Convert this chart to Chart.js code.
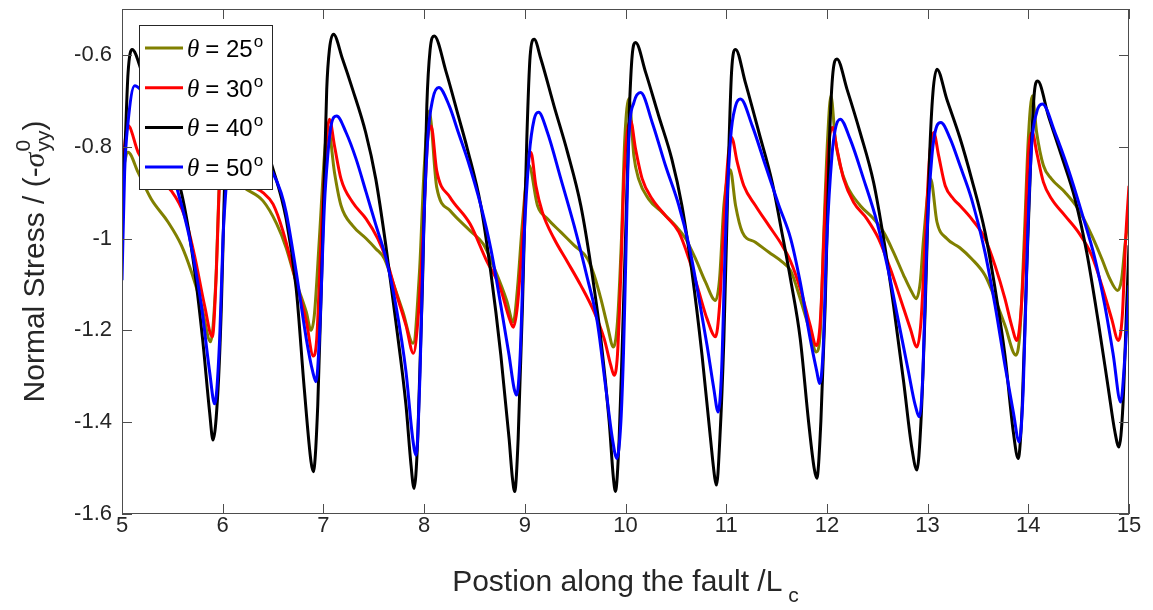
<!DOCTYPE html>
<html>
<head>
<meta charset="utf-8">
<script src="https://cdn.jsdelivr.net/npm/chart.js@4.4.0/dist/chart.umd.min.js"></script>
<style>
  html, body { margin: 0; padding: 0; background: #fff; }
</style>
</head>
<body>
<canvas id="c" width="1153" height="610"></canvas>
<script>
// axis ticks
const xTicks = [5, 6, 7, 8, 9, 10, 11, 12, 13, 14, 15];
const yTicks = [-1.6, -1.4, -1.2, -1, -0.8, -0.6];
const yTickLabels = ['-1.6', '-1.4', '-1.2', '-1', '-0.8', '-0.6'];

// legend / series
const angles = ['25', '30', '40', '50'];
const colors = ['#808000', '#ff0000', '#000000', '#0000ff'];

// theta = 25
const x25 = [5.00, 5.06, 5.16, 5.29, 5.457, 5.59, 5.69, 5.79, 5.88, 5.93, 5.97, 6.02, 6.07, 6.12, 6.205, 6.40, 6.536, 6.63, 6.73, 6.83, 6.877, 6.91, 6.96, 7.01, 7.045, 7.11, 7.175, 7.29, 7.424, 7.52, 7.606, 7.69, 7.79, 7.89, 7.954, 8.0, 8.05, 8.125, 8.257, 8.456, 8.588, 8.72, 8.82, 8.886, 8.927, 8.977, 9.04, 9.126, 9.225, 9.358, 9.49, 9.623, 9.689, 9.755, 9.82, 9.88, 9.92, 9.96, 9.993, 10.035, 10.083, 10.13, 10.23, 10.364, 10.497, 10.596, 10.695, 10.795, 10.894, 10.934, 10.977, 11.04, 11.093, 11.16, 11.29, 11.424, 11.556, 11.64, 11.735, 11.834, 11.894, 11.934, 11.967, 12.007, 12.04, 12.083, 12.132, 12.2, 12.33, 12.464, 12.563, 12.662, 12.762, 12.844, 12.887, 12.927, 12.96, 13.03, 13.093, 13.19, 13.32, 13.437, 13.57, 13.67, 13.768, 13.877, 13.917, 13.96, 14.0, 14.04, 14.083, 14.15, 14.23, 14.364, 14.497, 14.63, 14.73, 14.81, 14.887, 14.927, 14.96, 15.0];
const y25 = [-0.86, -0.812, -0.856, -0.914, -0.964, -1.015, -1.073, -1.146, -1.225, -1.10, -0.86, -0.75, -0.83, -0.87, -0.888, -0.918, -0.968, -1.02, -1.095, -1.16, -1.2, -1.167, -1.0, -0.82, -0.755, -0.856, -0.928, -0.972, -1.0, -1.022, -1.044, -1.095, -1.16, -1.228, -1.073, -0.85, -0.722, -0.888, -0.939, -0.983, -1.012, -1.077, -1.135, -1.182, -1.109, -0.964, -0.84, -0.928, -0.957, -0.986, -1.015, -1.044, -1.08, -1.131, -1.189, -1.236, -1.182, -1.0, -0.783, -0.695, -0.82, -0.87, -0.914, -0.943, -0.972, -1.0, -1.044, -1.095, -1.135, -1.088, -0.928, -0.85, -0.928, -0.986, -1.008, -1.03, -1.051, -1.07, -1.131, -1.204, -1.247, -1.204, -1.0, -0.783, -0.689, -0.783, -0.841, -0.885, -0.928, -0.957, -0.986, -1.03, -1.08, -1.117, -1.131, -1.095, -1.0, -0.87, -0.964, -1.0, -1.02, -1.044, -1.08, -1.131, -1.189, -1.254, -1.204, -1.0, -0.783, -0.689, -0.769, -0.841, -0.87, -0.899, -0.936, -0.993, -1.044, -1.088, -1.113, -1.088, -1.015, -0.943];

// theta = 30
const x30 = [5.00, 5.026, 5.06, 5.16, 5.30, 5.49, 5.62, 5.72, 5.82, 5.897, 5.937, 5.97, 6.01, 6.06, 6.12, 6.25, 6.40, 6.50, 6.60, 6.73, 6.83, 6.90, 6.934, 6.977, 7.02, 7.06, 7.11, 7.175, 7.29, 7.424, 7.54, 7.623, 7.72, 7.82, 7.894, 7.937, 7.987, 8.036, 8.07, 8.125, 8.257, 8.456, 8.62, 8.754, 8.853, 8.887, 8.927, 8.977, 9.02, 9.06, 9.11, 9.175, 9.29, 9.424, 9.556, 9.689, 9.788, 9.854, 9.887, 9.92, 9.954, 9.987, 10.05, 10.1, 10.166, 10.265, 10.397, 10.53, 10.63, 10.73, 10.81, 10.894, 10.934, 10.977, 11.02, 11.053, 11.11, 11.175, 11.29, 11.424, 11.556, 11.64, 11.735, 11.834, 11.894, 11.934, 11.977, 12.017, 12.056, 12.1, 12.166, 12.265, 12.397, 12.513, 12.63, 12.73, 12.828, 12.894, 12.934, 12.977, 13.02, 13.06, 13.11, 13.175, 13.258, 13.32, 13.437, 13.57, 13.67, 13.768, 13.834, 13.887, 13.927, 13.967, 14.0, 14.04, 14.083, 14.15, 14.232, 14.364, 14.497, 14.63, 14.73, 14.828, 14.894, 14.934, 14.967, 15.0];
const y30 = [-0.870, -0.798, -0.754, -0.812, -0.86, -0.896, -0.95, -1.037, -1.146, -1.214, -1.073, -0.86, -0.74, -0.80, -0.85, -0.88, -0.90, -0.925, -0.985, -1.095, -1.18, -1.256, -1.218, -1.0, -0.82, -0.74, -0.798, -0.87, -0.921, -0.957, -1.0, -1.044, -1.117, -1.189, -1.25, -1.182, -1.0, -0.783, -0.755, -0.852, -0.91, -0.968, -1.048, -1.106, -1.178, -1.193, -1.146, -1.0, -0.856, -0.812, -0.885, -0.943, -1.0, -1.051, -1.102, -1.16, -1.218, -1.276, -1.298, -1.254, -1.073, -0.856, -0.743, -0.805, -0.87, -0.914, -0.95, -0.986, -1.044, -1.117, -1.175, -1.214, -1.146, -0.964, -0.82, -0.78, -0.834, -0.885, -0.928, -0.972, -1.015, -1.05, -1.109, -1.189, -1.233, -1.182, -0.964, -0.798, -0.758, -0.805, -0.87, -0.921, -0.957, -1.0, -1.066, -1.131, -1.196, -1.236, -1.182, -1.0, -0.82, -0.769, -0.82, -0.885, -0.914, -0.928, -0.957, -1.0, -1.059, -1.131, -1.189, -1.222, -1.16, -1.0, -0.82, -0.769, -0.812, -0.877, -0.914, -0.95, -0.986, -1.037, -1.102, -1.175, -1.222, -1.167, -1.0, -0.885];

// theta = 40
const x40 = [5.00, 5.03, 5.06, 5.10, 5.20, 5.35, 5.47, 5.59, 5.705, 5.80, 5.87, 5.904, 5.954, 5.987, 6.013, 6.05, 6.09, 6.20, 6.30, 6.48, 6.63, 6.73, 6.81, 6.877, 6.90, 6.944, 6.993, 7.033, 7.06, 7.10, 7.19, 7.29, 7.42, 7.52, 7.62, 7.72, 7.82, 7.87, 7.90, 7.937, 7.987, 8.027, 8.06, 8.10, 8.22, 8.34, 8.43, 8.563, 8.662, 8.762, 8.844, 8.877, 8.90, 8.934, 8.977, 9.02, 9.053, 9.093, 9.16, 9.29, 9.424, 9.556, 9.656, 9.755, 9.838, 9.88, 9.90, 9.937, 9.97, 10.0, 10.04, 10.066, 10.10, 10.2, 10.33, 10.46, 10.56, 10.66, 10.76, 10.844, 10.887, 10.904, 10.937, 10.977, 11.02, 11.053, 11.093, 11.19, 11.325, 11.457, 11.556, 11.64, 11.735, 11.818, 11.874, 11.90, 11.94, 11.983, 12.026, 12.06, 12.10, 12.2, 12.33, 12.464, 12.563, 12.662, 12.762, 12.844, 12.894, 12.934, 12.977, 13.02, 13.053, 13.093, 13.19, 13.32, 13.437, 13.57, 13.67, 13.768, 13.851, 13.90, 13.94, 13.983, 14.026, 14.06, 14.093, 14.2, 14.33, 14.464, 14.58, 14.695, 14.795, 14.86, 14.90, 14.94, 14.977, 15.0];
const y40 = [-0.932, -0.80, -0.64, -0.588, -0.64, -0.75, -0.82, -0.90, -1.044, -1.218, -1.378, -1.439, -1.327, -1.146, -0.928, -0.66, -0.565, -0.63, -0.70, -0.834, -0.957, -1.109, -1.327, -1.486, -1.508, -1.363, -1.0, -0.675, -0.588, -0.555, -0.609, -0.675, -0.769, -0.87, -1.015, -1.182, -1.363, -1.493, -1.544, -1.436, -1.073, -0.711, -0.588, -0.559, -0.638, -0.733, -0.805, -0.928, -1.073, -1.254, -1.436, -1.522, -1.551, -1.436, -1.146, -0.783, -0.602, -0.566, -0.609, -0.711, -0.812, -0.928, -1.059, -1.218, -1.399, -1.522, -1.551, -1.436, -1.218, -1.0, -0.711, -0.602, -0.573, -0.638, -0.733, -0.827, -0.928, -1.073, -1.254, -1.436, -1.522, -1.537, -1.436, -1.218, -0.855, -0.638, -0.588, -0.66, -0.769, -0.878, -0.99, -1.09, -1.218, -1.399, -1.501, -1.522, -1.399, -1.146, -0.783, -0.638, -0.609, -0.675, -0.769, -0.878, -1.0, -1.146, -1.312, -1.457, -1.504, -1.399, -1.146, -0.82, -0.682, -0.631, -0.696, -0.78, -0.87, -0.986, -1.109, -1.254, -1.421, -1.479, -1.363, -1.073, -0.82, -0.682, -0.657, -0.733, -0.82, -0.914, -1.03, -1.182, -1.327, -1.421, -1.454, -1.363, -1.146, -1.015];

// theta = 50
const x50 = [5.00, 5.026, 5.06, 5.126, 5.25, 5.40, 5.556, 5.672, 5.788, 5.87, 5.92, 5.97, 6.003, 6.03, 6.07, 6.13, 6.25, 6.36, 6.483, 6.58, 6.63, 6.73, 6.83, 6.894, 6.927, 6.96, 7.01, 7.043, 7.076, 7.132, 7.225, 7.325, 7.424, 7.523, 7.623, 7.72, 7.82, 7.887, 7.92, 7.96, 7.993, 8.036, 8.086, 8.146, 8.25, 8.34, 8.43, 8.563, 8.662, 8.762, 8.844, 8.894, 8.92, 8.954, 8.993, 9.043, 9.093, 9.136, 9.225, 9.358, 9.49, 9.623, 9.72, 9.805, 9.87, 9.914, 9.954, 9.98, 10.0, 10.033, 10.083, 10.15, 10.265, 10.397, 10.53, 10.63, 10.73, 10.81, 10.877, 10.92, 10.954, 10.993, 11.043, 11.093, 11.142, 11.258, 11.39, 11.523, 11.64, 11.735, 11.834, 11.9, 11.927, 11.96, 12.0, 12.05, 12.083, 12.132, 12.23, 12.364, 12.497, 12.613, 12.712, 12.81, 12.877, 12.92, 12.954, 12.993, 13.043, 13.093, 13.132, 13.225, 13.32, 13.437, 13.57, 13.67, 13.768, 13.851, 13.91, 13.95, 13.993, 14.033, 14.083, 14.14, 14.265, 14.397, 14.53, 14.662, 14.76, 14.844, 14.917, 14.96, 15.0];
const y50 = [-1.091, -0.856, -0.747, -0.667, -0.70, -0.79, -0.899, -1.0, -1.146, -1.29, -1.36, -1.218, -1.0, -0.9, -0.78, -0.735, -0.77, -0.81, -0.85, -0.90, -0.943, -1.073, -1.218, -1.29, -1.312, -1.218, -0.928, -0.82, -0.754, -0.733, -0.769, -0.827, -0.899, -0.972, -1.044, -1.146, -1.29, -1.436, -1.472, -1.29, -1.0, -0.783, -0.696, -0.671, -0.711, -0.769, -0.827, -0.928, -1.022, -1.146, -1.254, -1.327, -1.341, -1.254, -1.0, -0.82, -0.74, -0.725, -0.769, -0.87, -0.972, -1.088, -1.182, -1.327, -1.436, -1.479, -1.40, -1.25, -1.073, -0.783, -0.704, -0.682, -0.747, -0.841, -0.928, -1.015, -1.131, -1.233, -1.327, -1.378, -1.29, -1.0, -0.783, -0.711, -0.696, -0.754, -0.841, -0.928, -1.0, -1.095, -1.218, -1.29, -1.316, -1.254, -1.0, -0.82, -0.762, -0.74, -0.783, -0.87, -0.964, -1.073, -1.182, -1.29, -1.363, -1.388, -1.29, -1.0, -0.82, -0.754, -0.747, -0.783, -0.84, -0.914, -1.03, -1.146, -1.276, -1.378, -1.443, -1.327, -1.0, -0.798, -0.725, -0.707, -0.769, -0.849, -0.943, -1.044, -1.146, -1.254, -1.356, -1.254, -1.102];

const xs = [x25, x30, x40, x50];
const ys = [y25, y30, y40, y50];

const SANS = '"Liberation Sans", Arial, sans-serif';
const SERIF = '"Liberation Serif", "DejaVu Serif", serif';
const TXT = '#262626';

// draws a run of text pieces; each piece may shift up/down and may not advance
function richWidth(ctx, parts) {
  let w = 0;
  parts.forEach(p => {
    ctx.font = p.font;
    const adv = p.adv === 0 ? 0 : ctx.measureText(p.t).width + (p.gap || 0);
    w += adv;
  });
  return w;
}
function drawRich(ctx, parts, x, y) {
  let cx = x;
  parts.forEach(p => {
    ctx.font = p.font;
    ctx.fillText(p.t, cx + (p.dx || 0), y + (p.dy || 0));
    if (p.adv !== 0) cx += ctx.measureText(p.t).width + (p.gap || 0);
  });
}

const matlabBox = {
  id: 'matlabBox',
  afterDraw(chart) {
    const { ctx, chartArea: a, scales } = chart;
    const sx = scales.x, sy = scales.y;
    ctx.save();

    // box + inward ticks
    ctx.strokeStyle = '#4d4d4d';
    ctx.lineWidth = 1;
    ctx.strokeRect(a.left + 0.5, a.top + 0.5, a.right - a.left - 1, a.bottom - a.top - 1);
    ctx.beginPath();
    xTicks.forEach(v => {
      const px = Math.round(sx.getPixelForValue(v)) + 0.5;
      ctx.moveTo(px, a.bottom); ctx.lineTo(px, a.bottom - 10);
      ctx.moveTo(px, a.top); ctx.lineTo(px, a.top + 10);
    });
    yTicks.forEach(v => {
      const py = Math.round(sy.getPixelForValue(v)) + 0.5;
      ctx.moveTo(a.left, py); ctx.lineTo(a.left + 10, py);
      ctx.moveTo(a.right, py); ctx.lineTo(a.right - 10, py);
    });
    ctx.stroke();

    ctx.fillStyle = TXT;
    ctx.textBaseline = 'alphabetic';
    ctx.textAlign = 'left';

    // x title
    const xt = [
      { t: 'Postion along the fault /L', font: '30px ' + SANS, gap: 6 },
      { t: 'c', font: '21px ' + SANS, dy: 11 }
    ];
    const xw = richWidth(ctx, xt);
    drawRich(ctx, xt, (a.left + a.right) / 2 - xw / 2, 591);

    // y title (rotated)
    const yt = [
      { t: 'Normal Stress / (-', font: '30px ' + SANS },
      { t: 'σ', font: 'italic 30px ' + SERIF, gap: 1 },
      { t: '0', font: '21px ' + SANS, dy: -14, adv: 0 },
      { t: 'yy', font: '21px ' + SANS, dy: 6 },
      { t: ')', font: '30px ' + SANS }
    ];
    const yw = richWidth(ctx, yt);
    ctx.save();
    ctx.translate(44, (a.top + a.bottom) / 2);
    ctx.rotate(-Math.PI / 2);
    drawRich(ctx, yt, -yw / 2, 0);
    ctx.restore();

    // legend
    const L = { x: 139, y: 25, w: 133, h: 164 };
    ctx.fillStyle = '#fff';
    ctx.fillRect(L.x, L.y, L.w, L.h);
    ctx.strokeStyle = '#262626';
    ctx.strokeRect(L.x + 0.5, L.y + 0.5, L.w, L.h);
    chart.data.datasets.forEach((ds, i) => {
      const cy = 48 + i * 39.7;
      ctx.strokeStyle = ds.borderColor;
      ctx.lineWidth = 3;
      ctx.beginPath();
      ctx.moveTo(145, cy); ctx.lineTo(183, cy);
      ctx.stroke();
      ctx.fillStyle = '#000';
      drawRich(ctx, [
        { t: 'θ', font: 'italic 25px ' + SERIF, gap: 6 },
        { t: '= ' + angles[i], font: '24px ' + SANS, gap: 1 },
        { t: 'o', font: '17px ' + SANS, dy: -10 }
      ], 187, cy + 9);
    });
    ctx.restore();
  }
};

const datasets = angles.map((ang, i) => ({
  label: 'θ = ' + ang,
  data: xs[i].map((x, j) => ({ x: x, y: ys[i][j] })),
  borderColor: colors[i],
  borderWidth: 3,
  pointRadius: 0,
  fill: false,
  cubicInterpolationMode: 'monotone',
  order: 4 - i
}));

new Chart(document.getElementById('c'), {
  type: 'line',
  data: { datasets: datasets },
  plugins: [matlabBox],
  options: {
    responsive: false,
    animation: false,
    devicePixelRatio: 1,
    layout: { padding: { left: 0, right: 24, top: 9, bottom: 0 } },
    plugins: { legend: { display: false }, tooltip: { enabled: false } },
    scales: {
      x: {
        type: 'linear', min: 5, max: 15,
        afterBuildTicks: axis => { axis.ticks = xTicks.map(v => ({ value: v })); },
        afterFit: scale => { scale.height = 96; scale.paddingLeft = 0; scale.paddingRight = 0; },
        grid: { display: false, drawTicks: false },
        border: { display: false },
        ticks: { color: TXT, font: { family: SANS, size: 22 }, padding: -1, maxRotation: 0, autoSkip: false }
      },
      y: {
        type: 'linear', min: -1.6, max: -0.5,
        afterBuildTicks: axis => { axis.ticks = yTicks.map(v => ({ value: v })); },
        afterFit: scale => { scale.width = 122; scale.paddingTop = 0; scale.paddingBottom = 0; },
        grid: { display: false, drawTicks: false },
        border: { display: false },
        ticks: {
          color: TXT, font: { family: SANS, size: 22 }, padding: 10, autoSkip: false,
          callback: (v) => { const k = yTicks.findIndex(t => Math.abs(t - v) < 1e-9); return k >= 0 ? yTickLabels[k] : ''; }
        }
      }
    }
  }
});
</script>
</body>
</html>
